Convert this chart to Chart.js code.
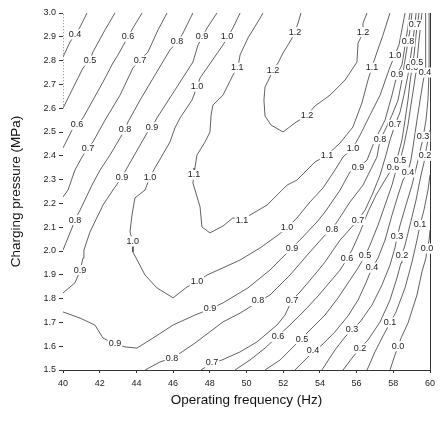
<!DOCTYPE html>
<html>
<head>
<meta charset="utf-8">
<script src="https://cdn.jsdelivr.net/npm/chart.js@4.4.0/dist/chart.umd.min.js"></script>
<style>
  html, body { margin: 0; padding: 0; background: #fff; }
</style>
</head>
<body>
<canvas id="myChart" width="448" height="421"></canvas>
<script>
// contour lines, each point is [frequency (Hz), pressure (MPa)]
const freqTicks = [40, 42, 44, 46, 48, 50, 52, 54, 56, 58, 60];
const pressTicks = [1.5, 1.6, 1.7, 1.8, 1.9, 2.0, 2.1, 2.2, 2.3, 2.4, 2.5, 2.6, 2.7, 2.8, 2.9, 3.0];

const c04a = [[40,2.815],[40.38,2.878],[40.65,2.908],[40.93,2.941],[41.31,3.0]];
const c05a = [[40,2.60],[40.49,2.676],[41.09,2.769],[41.47,2.803],[41.63,2.836],[42.29,2.929],[42.83,3.0]];
const c06a = [[40,2.433],[40.49,2.508],[40.76,2.529],[41.09,2.559],[41.63,2.634],[42.18,2.71],[42.72,2.79],[43.0,2.824],[43.54,2.899],[43.81,2.937],[44.31,3.0]];
const c07a = [[40,2.227],[40.27,2.256],[40.65,2.34],[41.04,2.395],[41.36,2.433],[41.63,2.458],[42.29,2.55],[43.11,2.655],[43.81,2.769],[44.2,2.803],[44.63,2.836],[45.18,2.929],[45.67,3.0]];
const c08a = [[40,2.004],[40.49,2.097],[40.65,2.13],[40.93,2.172],[41.58,2.277],[42.02,2.34],[42.56,2.403],[43.11,2.475],[43.38,2.508],[43.54,2.542],[44.2,2.634],[45.01,2.739],[45.83,2.845],[46.21,2.878],[46.49,2.908],[47.08,3.0]];
const c09a = [[40,1.824],[40.65,1.866],[40.93,1.916],[41.09,1.971],[41.14,2.004],[41.47,2.08],[42.18,2.193],[42.72,2.256],[43.22,2.311],[43.49,2.349],[44.58,2.496],[44.85,2.521],[45.12,2.559],[46.1,2.676],[47.08,2.794],[47.36,2.866],[47.57,2.895],[47.85,2.937],[48.39,3.0]];
const c09b = [[40,1.744],[40.93,1.718],[41.74,1.689],[42.18,1.634],[42.83,1.609],[43.38,1.597],[44.03,1.592],[44.9,1.634],[46.0,1.689],[47.19,1.731],[48.01,1.756],[48.72,1.782],[50.08,1.845],[51.28,1.92],[52.48,2.013],[53.02,2.055],[53.84,2.122],[54.28,2.164],[55.1,2.256],[55.64,2.332],[56.08,2.349],[56.57,2.382],[57.0,2.466],[57.55,2.55],[57.93,2.655],[58.2,2.739],[58.47,2.782],[58.69,2.887],[58.91,3.0]];
const c10 = [[49.65,3.0],[49.26,2.937],[48.94,2.895],[48.72,2.866],[47.47,2.727],[47.3,2.689],[47.03,2.634],[46.38,2.559],[46.1,2.517],[45.83,2.458],[45.01,2.349],[44.74,2.311],[44.47,2.256],[43.92,2.223],[43.76,2.151],[43.65,2.08],[43.81,2.038],[43.81,1.996],[44.47,1.899],[45.12,1.845],[46.0,1.803],[46.76,1.849],[47.3,1.87],[47.85,1.899],[49.65,1.962],[50.74,2.013],[51.72,2.067],[52.21,2.097],[52.75,2.139],[53.46,2.206],[54.17,2.265],[54.82,2.34],[55.26,2.395],[55.8,2.433],[56.19,2.487],[56.73,2.571],[57.28,2.655],[57.82,2.773],[58.09,2.824],[58.31,2.866],[58.64,3.0]];
const c11 = [[50.9,3.0],[50.52,2.95],[50.08,2.895],[49.65,2.824],[49.54,2.773],[49.26,2.739],[48.72,2.655],[48.17,2.613],[48.07,2.571],[48.01,2.5],[47.74,2.458],[47.3,2.403],[47.19,2.349],[47.14,2.319],[47.08,2.286],[47.47,2.185],[47.57,2.101],[48.01,2.076],[48.72,2.105],[49.26,2.139],[49.75,2.134],[50.19,2.151],[51.12,2.193],[52.21,2.277],[52.75,2.298],[53.73,2.374],[54.39,2.403],[55.1,2.454],[55.8,2.521],[56.29,2.622],[56.62,2.718],[56.84,2.773],[57.06,2.824],[57.44,2.908],[57.82,3.0]];
const c12 = [[52.97,3.0],[52.81,2.958],[52.64,2.92],[52.43,2.887],[51.99,2.832],[51.72,2.79],[51.44,2.761],[51.28,2.731],[51.01,2.689],[50.95,2.634],[51.01,2.567],[51.34,2.529],[51.99,2.5],[52.64,2.538],[53.3,2.571],[53.73,2.609],[54.55,2.655],[55.37,2.718],[56.02,2.794],[56.08,2.874],[56.35,2.916],[56.35,2.958],[56.57,3.0]];
const c08b = [[44.47,1.5],[45.29,1.534],[45.94,1.55],[46.49,1.576],[47.19,1.613],[48.72,1.702],[49.65,1.739],[50.63,1.786],[51.28,1.815],[52.37,1.899],[53.46,1.996],[54.28,2.067],[54.66,2.092],[54.93,2.122],[55.64,2.206],[56.35,2.277],[57.11,2.395],[57.28,2.466],[57.55,2.508],[57.93,2.571],[58.26,2.634],[58.47,2.718],[58.64,2.803],[58.8,2.878],[58.91,2.929],[59.02,3.0]];
const c07b = [[47.52,1.5],[48.12,1.529],[48.66,1.542],[49.65,1.576],[50.57,1.618],[51.66,1.689],[52.1,1.731],[52.48,1.794],[52.92,1.828],[53.84,1.912],[54.28,1.954],[55.1,2.046],[56.08,2.13],[56.46,2.172],[56.84,2.235],[57.28,2.319],[57.6,2.403],[57.82,2.466],[58.09,2.529],[58.37,2.584],[58.58,2.655],[58.8,2.739],[58.96,2.824],[59.07,2.887],[59.18,2.95],[59.24,3.0]];
const c06b = [[49.37,1.5],[50.19,1.542],[51.01,1.592],[51.72,1.643],[52.37,1.689],[53.19,1.752],[53.9,1.811],[54.55,1.87],[55.1,1.92],[55.48,1.966],[55.75,2.004],[56.19,2.08],[56.62,2.164],[57.06,2.235],[57.55,2.298],[57.98,2.353],[58.26,2.403],[58.47,2.466],[58.64,2.55],[58.8,2.634],[58.91,2.71],[59.02,2.769],[59.13,2.824],[59.24,2.908],[59.4,3.0]];
const c05b = [[51.01,1.5],[51.83,1.542],[52.48,1.592],[53.02,1.634],[53.46,1.668],[54.28,1.731],[54.99,1.803],[55.64,1.878],[56.08,1.929],[56.46,1.979],[56.73,2.025],[57.17,2.109],[57.55,2.193],[57.93,2.277],[58.15,2.34],[58.37,2.382],[58.58,2.445],[58.8,2.529],[58.96,2.613],[59.13,2.697],[59.24,2.752],[59.29,2.794],[59.35,2.845],[59.46,2.929],[59.56,3.0]];
const c04b = [[52.64,1.5],[53.19,1.542],[53.62,1.576],[54.11,1.605],[54.82,1.66],[55.53,1.727],[56.08,1.794],[56.51,1.866],[56.84,1.929],[57.17,1.971],[57.55,2.046],[57.93,2.151],[58.26,2.235],[58.53,2.298],[58.8,2.332],[58.96,2.382],[59.13,2.466],[59.29,2.55],[59.46,2.634],[59.62,2.71],[59.73,2.752],[59.78,2.803],[59.78,2.887],[59.73,3.0]];
const c03 = [[54.11,1.5],[54.82,1.584],[55.37,1.639],[55.75,1.668],[56.19,1.702],[56.84,1.773],[57.38,1.857],[57.82,1.941],[58.09,2.013],[58.2,2.055],[58.37,2.109],[58.69,2.193],[59.02,2.277],[59.35,2.382],[59.51,2.437],[59.62,2.475],[59.78,2.55],[59.89,2.634],[59.95,2.76],[59.95,2.887],[59.95,3.0]];
const c02 = [[55.26,1.5],[55.75,1.55],[56.19,1.592],[56.62,1.626],[57.28,1.702],[57.82,1.794],[58.2,1.887],[58.42,1.95],[58.47,1.983],[58.64,2.025],[58.91,2.109],[59.24,2.214],[59.51,2.319],[59.67,2.37],[59.73,2.403],[59.84,2.445],[60,2.508]];
const c01 = [[56.57,1.5],[57.0,1.576],[57.44,1.643],[57.82,1.697],[58.15,1.744],[58.64,1.845],[59.02,1.954],[59.29,2.046],[59.46,2.109],[59.67,2.172],[59.89,2.256],[60,2.319]];
const c00 = [[57.82,1.5],[58.09,1.563],[58.26,1.597],[58.42,1.634],[58.8,1.697],[59.29,1.815],[59.56,1.912],[59.78,1.971],[59.84,2.008],[59.95,2.046],[60,2.088]];

// contour labels: [text, frequency, pressure]
const labelPts = [
  ['0.4',40.65,2.91],['0.5',41.47,2.80],['0.6',40.76,2.53],['0.6',43.54,2.90],
  ['0.7',41.36,2.43],['0.7',44.2,2.80],['0.8',40.65,2.13],['0.8',43.38,2.51],['0.8',46.21,2.88],
  ['0.9',40.93,1.92],['0.9',43.22,2.31],['0.9',44.85,2.52],['0.9',47.57,2.90],
  ['1.0',48.94,2.90],['1.0',47.3,2.69],['1.0',44.74,2.31],['1.0',43.8,2.04],['1.0',47.3,1.87],
  ['1.0',52.21,2.10],['1.0',55.8,2.43],['1.0',58.09,2.82],
  ['1.1',49.5,2.77],['1.1',47.14,2.32],['1.1',49.75,2.13],['1.1',54.39,2.40],['1.1',56.84,2.77],
  ['1.2',52.64,2.92],['1.2',51.44,2.76],['1.2',53.3,2.57],['1.2',56.35,2.92],
  ['0.9',42.83,1.61],['0.9',48.01,1.76],['0.9',52.48,2.01],['0.9',56.08,2.35],['0.9',58.2,2.74],
  ['0.8',45.94,1.55],['0.8',50.63,1.79],['0.8',54.66,2.09],['0.8',57.28,2.47],['0.8',58.8,2.88],
  ['0.7',48.12,1.53],['0.7',52.48,1.79],['0.7',56.08,2.13],['0.7',58.09,2.53],['0.7',59.18,2.95],
  ['0.6',51.72,1.64],['0.6',55.48,1.97],['0.6',57.98,2.35],['0.6',59.02,2.77],
  ['0.5',53.02,1.63],['0.5',56.46,1.98],['0.5',58.37,2.38],['0.5',59.29,2.79],
  ['0.4',53.62,1.58],['0.4',56.84,1.93],['0.4',58.8,2.33],['0.4',59.73,2.75],
  ['0.3',55.75,1.67],['0.3',58.2,2.06],['0.3',59.62,2.48],
  ['0.2',56.19,1.59],['0.2',58.47,1.98],['0.2',59.73,2.40],
  ['0.1',57.82,1.70],['0.1',59.46,2.11],
  ['0.0',58.26,1.60],['0.0',59.84,2.01]
];

const contours = [c04a, c05a, c06a, c07a, c08a, c09a, c09b, c10, c11, c12,
                  c08b, c07b, c06b, c05b, c04b, c03, c02, c01, c00];

const labelFont = '9px "Liberation Sans", Arial, sans-serif';

// frame bits + contour labels (white box under text breaks the line)
const contourLabels = {
  id: 'contourLabels',
  afterDatasetsDraw(chart) {
    const { ctx, scales: { x, y } } = chart;
    ctx.save();
    ctx.strokeStyle = '#333';
    ctx.lineWidth = 1;
    ctx.beginPath();
    ctx.moveTo(x.getPixelForValue(60) + 0.5, y.getPixelForValue(1.5));
    ctx.lineTo(x.getPixelForValue(60) + 0.5, y.getPixelForValue(3.0));
    ctx.stroke();
    ctx.setLineDash([1, 2]);
    ctx.strokeStyle = '#888';
    ctx.beginPath();
    ctx.moveTo(x.getPixelForValue(40) + 0.5, y.getPixelForValue(2.6));
    ctx.lineTo(x.getPixelForValue(40) + 0.5, y.getPixelForValue(3.0));
    ctx.stroke();
    ctx.setLineDash([]);

    ctx.font = labelFont;
    ctx.textAlign = 'center';
    ctx.textBaseline = 'middle';
    labelPts.forEach(([t, f, p]) => {
      const px = x.getPixelForValue(f);
      const py = y.getPixelForValue(p);
      const w = ctx.measureText(t).width + 2;
      ctx.fillStyle = '#fff';
      ctx.fillRect(px - w / 2, py - 5, w, 10);
      ctx.fillStyle = '#222';
      ctx.fillText(t, px, py);
    });
    ctx.restore();
  }
};

new Chart('myChart', {
  type: 'scatter',
  data: {
    datasets: contours.map(c => ({
      data: c.map(([x, y]) => ({ x, y })),
      showLine: true,
      borderColor: '#3a3a3a',
      borderWidth: 0.8,
      pointRadius: 0,
      fill: false,
      tension: 0
    }))
  },
  options: {
    responsive: false,
    animation: false,
    layout: { padding: { top: 13, right: 18, left: 0, bottom: 0 } },
    plugins: { legend: { display: false }, tooltip: { enabled: false } },
    scales: {
      x: {
        type: 'linear', min: 40, max: 60,
        afterBuildTicks: s => { s.ticks = freqTicks.map(v => ({ value: v })); },
        afterFit: s => { s.height = 51; },
        ticks: { color: '#222', font: { size: 9, family: '"Liberation Sans", Arial, sans-serif' }, padding: 5, maxRotation: 0 },
        grid: { drawOnChartArea: false, tickLength: 3, color: '#333' },
        border: { display: true, color: '#333', width: 1 },
        title: {
          display: true, text: 'Operating frequency (Hz)', color: '#111',
          font: { size: 13.5, family: '"Liberation Sans", Arial, sans-serif' },
          padding: { top: 2, bottom: 13 }
        }
      },
      y: {
        type: 'linear', min: 1.5, max: 3.0,
        afterBuildTicks: s => { s.ticks = pressTicks.map(v => ({ value: v })); },
        afterFit: s => { s.width = 63; },
        ticks: { color: '#222', font: { size: 9, family: '"Liberation Sans", Arial, sans-serif' }, padding: 3, callback: v => v.toFixed(1) },
        grid: { drawOnChartArea: false, tickLength: 4, color: '#333' },
        border: { display: false },
        title: {
          display: true, text: 'Charging pressure (MPa)', color: '#111',
          font: { size: 13.5, family: '"Liberation Sans", Arial, sans-serif' },
          padding: { top: 8, bottom: 2 }
        }
      }
    }
  },
  plugins: [contourLabels]
});
</script>
</body>
</html>
